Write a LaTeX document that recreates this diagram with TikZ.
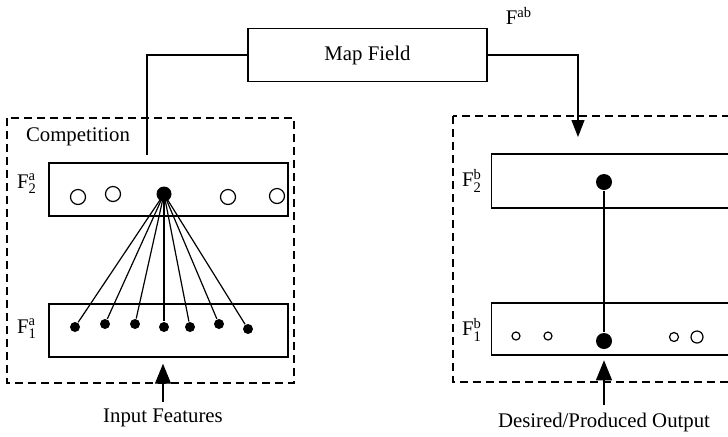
\documentclass[tikz,border=0pt]{standalone}
\usepackage{amsmath}
\usepackage{fontspec}
\setmainfont{Liberation Serif}
\usetikzlibrary{arrows.meta,positioning}

\begin{document}
\begin{tikzpicture}[x=0.5pt,y=-0.5pt, line width=0.6pt, every node/.style={font=\fontsize{10.4}{12}\selectfont}, layer/.style={draw,inner sep=0pt,minimum height=26.5pt}, group/.style={draw,dash pattern=on 4pt off 2.5pt}, hollow/.style={circle,draw,fill=white,inner sep=0pt,minimum size=7.5pt}, dot/.style={circle,fill=black,inner sep=0pt,minimum size=5pt}, bigdot/.style={circle,fill=black,inner sep=0pt,minimum size=8pt}, arr/.style={-{Triangle[length=8.5pt,width=6.5pt]}}, bigarr/.style={-{Triangle[length=10pt,width=8pt]}}]
\useasboundingbox (0,0) rectangle (728,436);
\clip (0,0) rectangle (728,436);
% dashed groups
\draw[group] (7,118) rectangle (294,383);
\draw[group] (453,116) rectangle (800,382);
% layers
\node[layer,minimum width=119.5pt] (map) at (367.5,55) {Map Field};
\node (fab) at (519,16) {F$^{\text{ab}}$};
\node[layer,minimum width=119.5pt] (f2a) at (168.5,189.5) {};
\node[layer,minimum width=119.5pt] (f1a) at (168.5,330.5) {};
\node[layer,minimum width=150pt,minimum height=27pt,anchor=west] (f2b) at (491,181) {};
\node[layer,minimum width=150pt,minimum height=26pt,anchor=west] (f1b) at (491,329) {};
\node (comp) at (78,137) {Competition};
\node (l2a) at (27,184) {F$_{\text{2}}^{\text{a}}$};
\node (l1a) at (27,329) {F$_{\text{1}}^{\text{a}}$};
\node (l2b) at (472,181) {F$_{\text{2}}^{\text{b}}$};
\node (l1b) at (472,330) {F$_{\text{1}}^{\text{b}}$};
% F2a units
\node[hollow] (a1) at (78,197) {};
\node[hollow] (a2) at (113,194) {};
\node[bigdot,minimum size=7.5pt] (win) at (164,194) {};
\node[hollow] (a4) at (228,197) {};
\node[hollow] (a5) at (277,196) {};
% F1a inputs
\foreach \i/\x/\y in {1/75/327,2/105/324,3/135/324,4/164/327,5/190/327,6/219/324,7/248/329}
{
  \node[dot] (in\i) at (\x,\y) {};
  \draw (win.center) -- (in\i);
}
% F2b and F1b units
\node[bigdot] (outb) at (604,182) {};
\node[bigdot] (desb) at (604,341) {};
\draw (outb) -- (desb);
\node[hollow,minimum size=4pt] (b1) at (516,336) {};
\node[hollow,minimum size=4pt] (b2) at (548,336) {};
\node[hollow,minimum size=4.5pt] (b3) at (674,337) {};
\node[hollow,minimum size=6pt] (b4) at (697,337) {};
% map field links
\coordinate (tapa) at (147,155);
\draw (map.west) -| (tapa);
\draw[arr] (map.east) -| (578,137);
% inputs
\node (feat) at (163,418) {Input Features};
\node (want) at (604,422) {Desired/Produced Output};
\draw[bigarr] (feat.north) -- ++(0,-38);
\draw[bigarr] (want.north) -- ++(0,-45);
\end{tikzpicture}
\end{document}
